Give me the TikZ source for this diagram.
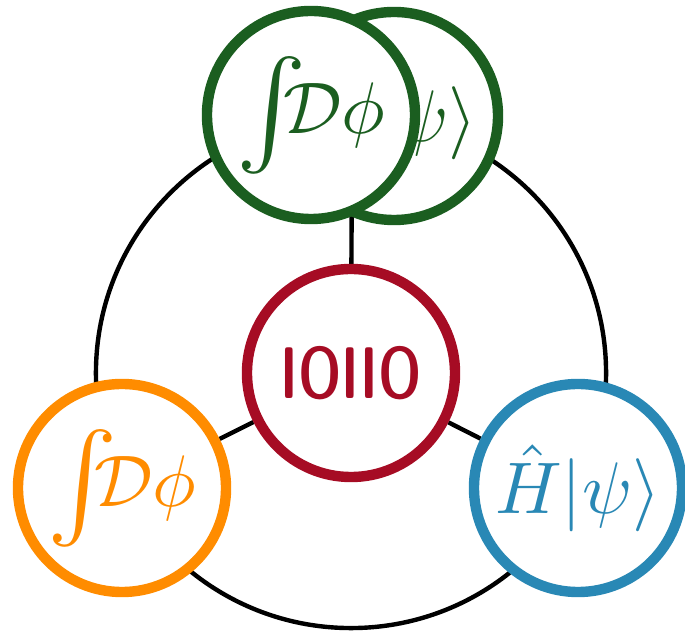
\documentclass[tikz,border=0pt]{standalone}
\usetikzlibrary{backgrounds}
\definecolor{pathgreen}{RGB}{27,94,32}
\definecolor{hamblue}{RGB}{41,136,181}
\definecolor{intorange}{RGB}{255,140,0}
\definecolor{bitred}{RGB}{166,12,36}
\newcommand{\bigint}{\vcenter{\hbox{\scalebox{1.45}{$\int$}}}\!\!}
\newcommand{\ringmath}[1]{\scalebox{5.2}{$#1$}}
\begin{document}
\begin{tikzpicture}[x=0.025cm, y=0.025cm,
    ring/.style={circle, draw=#1, text=#1, fill=white, line width=0.26cm,
        minimum size=5.2cm, inner sep=0pt},
    link/.style={line width=0.11cm, black}]
    \useasboundingbox (0,0) rectangle (685,631);

    % centre node
    \node[ring=bitred, font=\fontsize{52}{60}\selectfont] (bits) at (351,258)
        {\sffamily\fontseries{sbc}\selectfont\scalebox{0.85}[1]{IOIIO}};

    % lower nodes
    \node[ring=intorange] (pint) at (122,143) {\ringmath{\bigint\mathcal{D}\phi}};
    \node[ring=hamblue] (ham) at (578,143) {\ringmath{\hat{H}|\psi\rangle}};

    % top pair, right one behind
    \node[ring=pathgreen] (hamtop) at (394,515) {\ringmath{\hat{H}|\psi\rangle}};
    \node[ring=pathgreen] (pinttop) at (311,516) {\ringmath{\bigint\mathcal{D}\phi}};
    \coordinate (top) at (352,515);

    % ring and spokes behind
    \begin{pgfonlayer}{background}
        \draw[link] (bits.center) circle[radius=6.375cm];
        \draw[link] (bits) -- (top);
        \draw[link] (bits) -- (pint);
        \draw[link] (bits) -- (ham);
    \end{pgfonlayer}
\end{tikzpicture}
\end{document}
